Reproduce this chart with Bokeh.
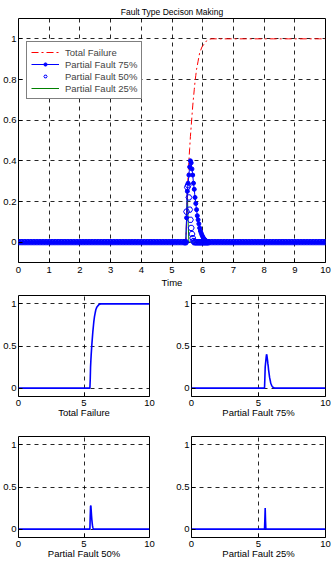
from bokeh.plotting import figure
from bokeh.layouts import column, row
from bokeh.models import (ColumnDataSource, Legend, LegendItem, FixedTicker,
                          CustomJSTickFormatter)
from bokeh.embed import file_html
from bokeh.resources import INLINE

# ---------------- data ----------------
time = [
    0.0, 0.1, 0.2, 0.3, 0.4, 0.5, 0.6, 0.7, 0.8, 0.9,
    1.0, 1.1, 1.2, 1.3, 1.4, 1.5, 1.6, 1.7, 1.8, 1.9,
    2.0, 2.1, 2.2, 2.3, 2.4, 2.5, 2.6, 2.7, 2.8, 2.9,
    3.0, 3.1, 3.2, 3.3, 3.4, 3.5, 3.6, 3.7, 3.8, 3.9,
    4.0, 4.1, 4.2, 4.3, 4.4, 4.5, 4.6, 4.7, 4.8, 4.9,
    5.0, 5.1, 5.2, 5.3, 5.4,
    5.425, 5.45, 5.475, 5.5, 5.525, 5.55, 5.575, 5.6,
    5.625, 5.65, 5.675, 5.7, 5.725, 5.75, 5.775, 5.8,
    5.825, 5.85, 5.875, 5.9, 5.925, 5.95, 5.975, 6.0,
    6.025, 6.05, 6.075, 6.1, 6.125, 6.15, 6.175, 6.2,
    6.3, 6.4, 6.5, 6.6, 6.7, 6.8, 6.9,
    7.0, 7.1, 7.2, 7.3, 7.4, 7.5, 7.6, 7.7, 7.8, 7.9,
    8.0, 8.1, 8.2, 8.3, 8.4, 8.5, 8.6, 8.7, 8.8, 8.9,
    9.0, 9.1, 9.2, 9.3, 9.4, 9.5, 9.6, 9.7, 9.8, 9.9,
    10.0,
]

zeros_before = [
    0, 0, 0, 0, 0, 0, 0, 0, 0, 0,
    0, 0, 0, 0, 0, 0, 0, 0, 0, 0,
    0, 0, 0, 0, 0, 0, 0, 0, 0, 0,
    0, 0, 0, 0, 0, 0, 0, 0, 0, 0,
    0, 0, 0, 0, 0, 0, 0, 0, 0, 0,
    0, 0, 0, 0, 0,
]
zeros_after = [
    0, 0, 0, 0, 0, 0, 0,
    0, 0, 0, 0, 0, 0, 0, 0, 0, 0,
    0, 0, 0, 0, 0, 0, 0, 0, 0, 0,
    0, 0, 0, 0, 0, 0, 0, 0, 0, 0,
    0,
]
ones_after = [
    1, 1, 1, 1, 1, 1, 1,
    1, 1, 1, 1, 1, 1, 1, 1, 1, 1,
    1, 1, 1, 1, 1, 1, 1, 1, 1, 1,
    1, 1, 1, 1, 1, 1, 1, 1, 1, 1,
    1,
]

total_failure_event = [
    0.0, 0.0, 0.10, 0.25, 0.33, 0.40, 0.46, 0.52,
    0.57, 0.62, 0.67, 0.71, 0.75, 0.79, 0.82, 0.85,
    0.87, 0.89, 0.91, 0.93, 0.94, 0.95, 0.96, 0.965,
    0.97, 0.975, 0.98, 0.985, 0.99, 0.993, 0.996, 0.998,
]
partial75_event = [
    0.0, 0.0, 0.12, 0.25, 0.29, 0.33, 0.37, 0.40,
    0.39, 0.36, 0.33, 0.29, 0.26, 0.22, 0.19, 0.16,
    0.13, 0.11, 0.09, 0.07, 0.055, 0.045, 0.035, 0.027,
    0.02, 0.015, 0.01, 0.007, 0.005, 0.003, 0.001, 0.0,
]
partial50_event = [
    0.0, 0.0, 0.15, 0.27, 0.28, 0.22, 0.16, 0.11,
    0.07, 0.04, 0.02, 0.005, 0.0, 0.0, 0.0, 0.0,
    0.0, 0.0, 0.0, 0.0, 0.0, 0.0, 0.0, 0.0,
    0.0, 0.0, 0.0, 0.0, 0.0, 0.0, 0.0, 0.0,
]
partial25_event = [
    0.0, 0.0, 0.12, 0.25, 0.10, 0.0, 0.0, 0.0,
    0.0, 0.0, 0.0, 0.0, 0.0, 0.0, 0.0, 0.0,
    0.0, 0.0, 0.0, 0.0, 0.0, 0.0, 0.0, 0.0,
    0.0, 0.0, 0.0, 0.0, 0.0, 0.0, 0.0, 0.0,
]

total_failure = zeros_before + total_failure_event + ones_after
partial75 = zeros_before + partial75_event + zeros_after
partial50 = zeros_before + partial50_event + zeros_after
partial25 = zeros_before + partial25_event + zeros_after

series_names = ["Total Failure", "Partial Fault 75%", "Partial Fault 50%", "Partial Fault 25%"]
main_title = "Fault Type Decison Making"
main_xlabel = "Time"
main_yticks = [0, 0.2, 0.4, 0.6, 0.8, 1]
main_xticks = [0, 1, 2, 3, 4, 5, 6, 7, 8, 9, 10]
sub_yticks = [0, 0.5, 1]
sub_xticks = [0, 5, 10]

src = ColumnDataSource(dict(t=time, tf=total_failure, p75=partial75,
                            p50=partial50, p25=partial25))

FONT = "Liberation Sans"
fmt = CustomJSTickFormatter(code="return String(Math.round(tick*10)/10);")


def style(fig, xticks, yticks, tick_size, x_standoff, label_standoff):
    fig.outline_line_color = "black"
    fig.outline_line_width = 1
    fig.outline_line_alpha = 1
    fig.background_fill_color = "white"
    fig.border_fill_color = "white"
    fig.xaxis.ticker = FixedTicker(ticks=xticks)
    fig.yaxis.ticker = FixedTicker(ticks=yticks)
    for ax in (fig.xaxis[0], fig.yaxis[0]):
        ax.formatter = fmt
        ax.axis_line_color = None
        ax.major_tick_in = 4
        ax.major_tick_out = 0
        ax.minor_tick_line_color = None
        ax.major_tick_line_color = "black"
        ax.major_label_text_font = FONT
        ax.major_label_text_font_size = tick_size
        ax.major_label_text_color = "black"
        ax.axis_label_text_font = FONT
        ax.axis_label_text_font_style = "normal"
        ax.axis_label_text_font_size = tick_size
        ax.axis_label_text_color = "black"
    fig.xaxis[0].major_label_standoff = x_standoff
    fig.xaxis[0].axis_label_standoff = label_standoff
    fig.yaxis[0].major_label_standoff = 2
    for g in (fig.xgrid[0], fig.ygrid[0]):
        g.grid_line_color = "black"
        g.grid_line_dash = "4 4"
        g.grid_line_width = 1
        g.grid_line_alpha = 0.85


# ---------------- main figure ----------------
p = figure(width=332, height=290, x_range=(0, 10), y_range=(-0.1, 1.1),
           output_backend="svg", toolbar_location=None,
           min_border_left=16, min_border_right=7, min_border_top=18,
           min_border_bottom=28)
p.title.text = main_title
p.title.align = "center"
p.title.text_font = FONT
p.title.text_font_size = "8.5px"
p.title.text_font_style = "normal"
p.title.text_color = "black"
p.title.standoff = 3
style(p, main_xticks, main_yticks, "9.5px", 4, 1)
p.xaxis.axis_label = main_xlabel

r_25 = p.line("t", "p25", source=src, line_color="green", line_width=1)
r_tf = p.line("t", "tf", source=src, line_color="red", line_width=1,
              line_dash="7 3 2 3")
r_75l = p.line("t", "p75", source=src, line_color="blue", line_width=1)
r_75m = p.scatter("t", "p75", source=src, marker="circle", size=4,
                  fill_color="blue", line_color="blue")
r_50 = p.scatter("t", "p50", source=src, marker="hex", size=6,
                 fill_color=None, line_color="blue", line_width=1)

legend = Legend(items=[
    LegendItem(label=series_names[0], renderers=[r_tf]),
    LegendItem(label=series_names[1], renderers=[r_75l, r_75m]),
    LegendItem(label=series_names[2], renderers=[r_50]),
    LegendItem(label=series_names[3], renderers=[r_25]),
], location=(8, 163))
legend.border_line_color = "black"
legend.border_line_width = 1
legend.background_fill_color = "white"
legend.background_fill_alpha = 1
legend.padding = 4
legend.spacing = 0
legend.margin = 0
legend.label_text_font = FONT
legend.label_text_font_size = "9.5px"
legend.label_height = 12
legend.glyph_height = 8
legend.glyph_width = 28
legend.label_standoff = 6
p.add_layout(legend)


# ---------------- small figures ----------------
def sub(col, label, width, left, right, height, top):
    f = figure(width=width, height=height, x_range=(0, 10), y_range=(-0.1, 1.1),
               output_backend="svg", toolbar_location=None,
               min_border_left=left, min_border_right=right,
               min_border_top=top, min_border_bottom=24)
    style(f, sub_xticks, sub_yticks, "9.5px", 3, -2)
    f.xaxis.axis_label = label
    f.line("t", col, source=src, line_color="blue", line_width=1.6)
    return f


a = sub("tf", series_names[0], 166, 16, 17, 130, 5)
b = sub("p75", series_names[1], 166, 25, 7, 130, 5)
c = sub("p50", series_names[2], 166, 16, 17, 141, 16)
d = sub("p25", series_names[3], 166, 25, 7, 141, 16)

layout = column(p, row(a, b), row(c, d))

open("out.html", "w").write(file_html(layout, INLINE))
